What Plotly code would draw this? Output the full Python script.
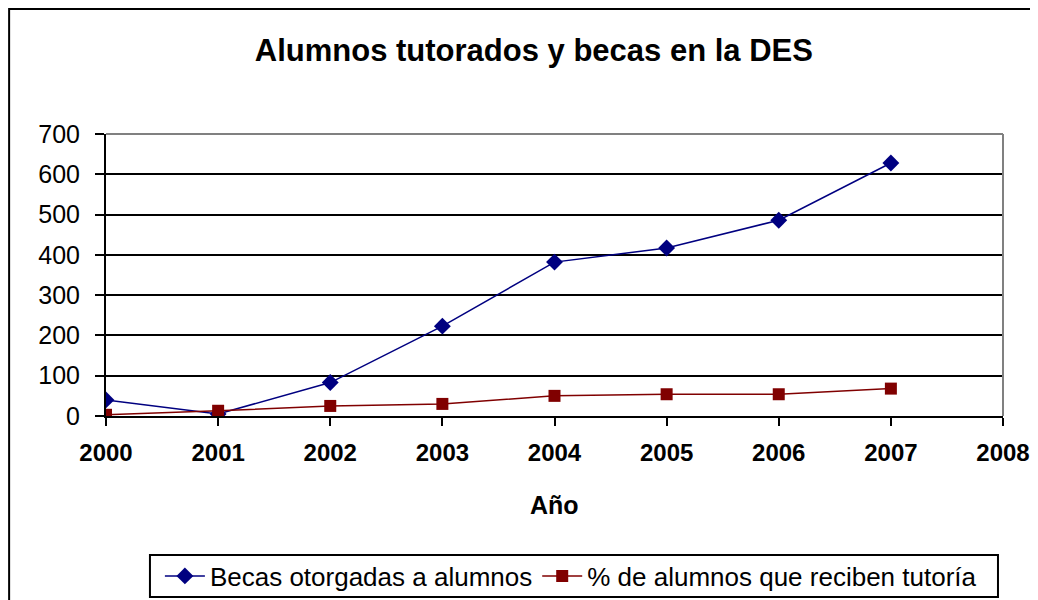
import plotly.graph_objects as go

years = [2000, 2001, 2002, 2003, 2004, 2005, 2006, 2007]
becas = [40, 5, 83, 223, 382, 417, 486, 628]
pct_tutoria = [3, 13, 25, 30, 50, 54, 54, 68]
y_ticks = [0, 100, 200, 300, 400, 500, 600, 700]
x_ticks = [2000, 2001, 2002, 2003, 2004, 2005, 2006, 2007, 2008]

NAVY = '#000080'
MAROON = '#800000'
FONT = 'Liberation Sans, Arial, sans-serif'

fig = go.Figure()

fig.add_trace(go.Scatter(
    x=years, y=becas, name='Becas otorgadas a alumnos',
    mode='lines+markers',
    line=dict(color=NAVY, width=1.5),
    marker=dict(symbol='diamond', size=13, color=NAVY),
))
fig.add_trace(go.Scatter(
    x=years, y=pct_tutoria, name='% de alumnos que reciben tutoría',
    mode='lines+markers',
    line=dict(color=MAROON, width=1.5),
    marker=dict(symbol='square', size=12, color=MAROON),
))

# gray plot-area border on top and right, outer chart frame, legend box
shapes = [
    dict(type='line', xref='x domain', yref='y domain', x0=0, x1=1, y0=1, y1=1,
         line=dict(color='#808080', width=2), layer='above'),
    dict(type='line', xref='x domain', yref='y domain', x0=1, x1=1, y0=0, y1=1,
         line=dict(color='#808080', width=2), layer='above'),
    dict(type='rect', xref='paper', yref='paper', x0=-0.108, x1=1.2, y0=-1, y1=1.443,
         line=dict(color='black', width=2), layer='below'),
    dict(type='rect', xref='paper', yref='paper', x0=0.049, x1=0.9944, y0=-0.6418, y1=-0.4929,
         line=dict(color='black', width=2), layer='above'),
]

fig.update_layout(
    width=1030, height=592,
    paper_bgcolor='white', plot_bgcolor='white',
    margin=dict(l=98, r=35, t=126, b=184, autoexpand=False),
    font=dict(family=FONT, color='black'),
    title=dict(text='<b>Alumnos tutorados y becas en la DES</b>',
               font=dict(size=31, family=FONT, color='black'),
               xref='paper', x=0.477, xanchor='center',
               yref='container', y=0.929, yanchor='middle'),
    shapes=shapes,
    annotations=[dict(text='<b>Año</b>', xref='paper', yref='paper',
                      x=0.5, y=-0.3156, xanchor='center', yanchor='middle',
                      showarrow=False, font=dict(size=25, family=FONT, color='black'))],
    showlegend=True,
    legend=dict(orientation='h', xref='container', yref='container',
                x=0.5465, xanchor='center', y=0.0405, yanchor='middle',
                bgcolor='rgba(0,0,0,0)', borderwidth=0,
                font=dict(size=26, family=FONT), itemwidth=40,
                tracegroupgap=0),
)

fig.update_xaxes(
    range=[2000, 2008], tickvals=x_ticks,
    ticks='outside', ticklen=8, tickcolor='black', tickwidth=2,
    showline=True, linecolor='black', linewidth=2,
    showgrid=False, zeroline=False, automargin=False,
    tickfont=dict(size=24, family=FONT, color='black', weight='bold'),
    ticklabelstandoff=6,
)
fig.update_yaxes(
    range=[0, 700], tickvals=y_ticks,
    ticks='outside', ticklen=9, tickcolor='black', tickwidth=2,
    showline=True, linecolor='black', linewidth=2,
    showgrid=True, gridcolor='black', gridwidth=1.5, zeroline=False, automargin=False,
    tickfont=dict(size=25, family=FONT, color='black'),
    ticklabelstandoff=10,
)

fig.write_html('out.html')
